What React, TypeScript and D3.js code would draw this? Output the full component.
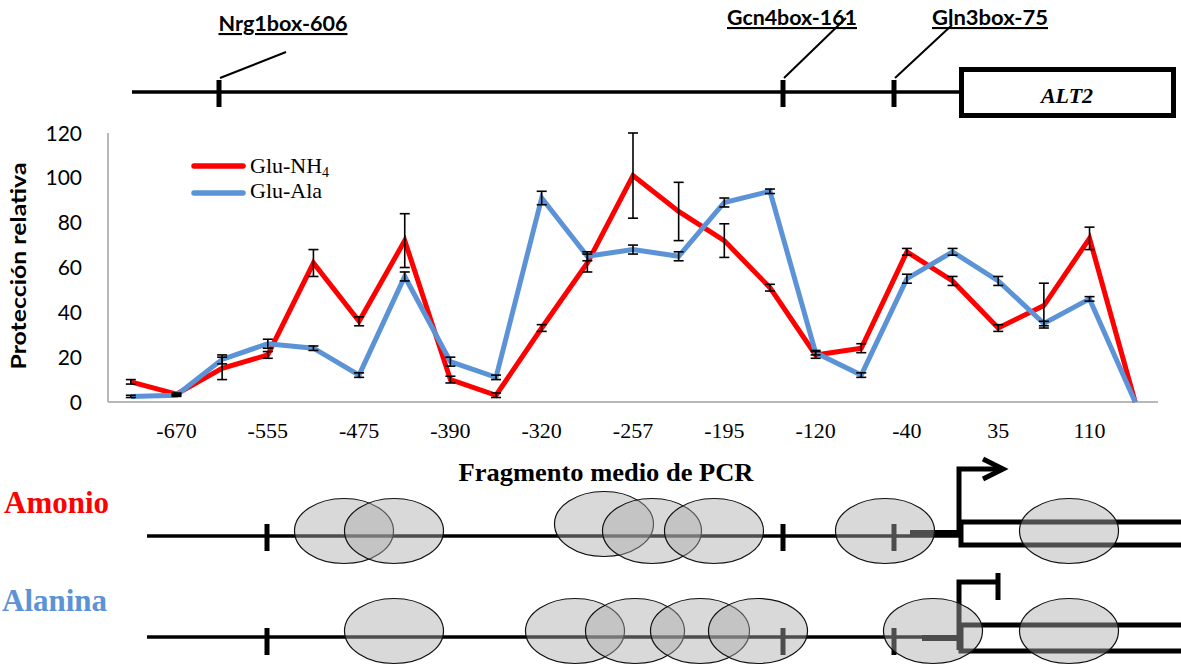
import React from "react";
import * as d3 from "d3";

// PCR fragment midpoints (only every second one is labelled on the axis)
const categories = [
  "-715", "-670", "-610", "-555", "-515", "-475", "-430", "-390", "-355", "-320", "-290", "-257",
  "-225", "-195", "-160", "-120", "-80", "-40", "0", "35", "75", "110", "150",
];
const gluNH4 = [9, 3.5, 15, 21, 62, 36, 72, 10, 3, 33, 62, 101, 85, 72, 51, 21, 24, 67, 54, 33, 43, 73, 0];
const gluNH4Err = [1, 0.5, 5, 1.5, 6, 2, 12, 1.5, 1, 1.5, 4, 19, 13, 7.5, 1.5, 1.5, 2, 1.5, 2, 1.5, 10, 5, 0];
const gluAla = [2.5, 3, 19, 26, 24, 12, 56, 18, 11, 91, 65, 68, 65, 89, 94, 22, 12, 55, 67, 54, 35, 46, 0];
const gluAlaErr = [0.5, 0.5, 2, 2, 1, 1, 2, 2, 1, 3, 2, 2, 2, 2, 1, 1, 1, 2, 1.5, 2, 1, 1, 0];
const yTicks = [0, 20, 40, 60, 80, 100, 120];

// schematic: boxes in the promoter (top) and nucleosome positions (bottom)
const boxes = [
  { name: "Nrg1box-606", tick: 219, label: 283, base: 31, len: 129, lead: [286, 52] },
  { name: "Gcn4box-161", tick: 783, label: 792, base: 25, len: 130, lead: [846, 18] },
  { name: "Gln3box-75", tick: 894, label: 990, base: 25, len: 116, lead: [952, 25] },
];
const amonioNuc = [[344, 531], [394, 531], [604, 524], [652, 531], [714, 531], [885, 531], [1069, 531]];
const alaninaNuc = [[394, 631], [575, 631], [635, 631], [700, 631], [758, 631], [933, 631], [1069, 631]];

const RED = "#ff0000";
const BLUE = "#5b93d6";
const SANS = "Lato, 'Open Sans', sans-serif";
const SERIF = "'Liberation Serif', 'Times New Roman', serif";

const x = d3.scalePoint<string>().domain(categories).range([108, 1158]).padding(0.5);
const y = d3.scaleLinear().domain([0, 120]).range([402, 133]);

const line = d3
  .line<number>()
  .x((_, i) => x(categories[i]) as number)
  .y((d) => y(d));

const series = [
  { name: "Glu-NH", sub: "4", values: gluNH4, err: gluNH4Err, color: RED },
  { name: "Glu-Ala", sub: "", values: gluAla, err: gluAlaErr, color: BLUE },
];

function Nucleosomes({ list }: { list: number[][] }) {
  return (
    <g>
      {list.map(([cx, cy], i) => (
        <ellipse key={i} cx={cx} cy={cy} rx={49.5} ry={32.5} fill="rgb(170,170,170)" fillOpacity={0.45} stroke="#111" strokeWidth={1.2} />
      ))}
    </g>
  );
}

export default function App() {
  return (
    <svg width={1181} height={665} style={{ position: "absolute", left: 0, top: 0, background: "#fff" }}>
      {/* top promoter schematic */}
      <line x1={132} x2={960} y1={92} y2={92} stroke="#000" strokeWidth={3.5} />
      {boxes.map((b) => (
        <g key={b.name}>
          <line x1={b.tick} x2={b.tick} y1={80} y2={107} stroke="#000" strokeWidth={5} />
          <line x1={b.tick + 1} y1={78} x2={b.lead[0]} y2={b.lead[1]} stroke="#000" strokeWidth={2} />
          <text
            x={b.label}
            y={b.base}
            textAnchor="middle"
            fontFamily={SANS}
            fontWeight="bold"
            fontSize={21}
            textLength={b.len}
            lengthAdjust="spacingAndGlyphs"
            style={{ textDecoration: "underline" }}
          >
            {b.name}
          </text>
        </g>
      ))}
      <rect x={961.5} y={69.5} width={212} height={46} fill="#fff" stroke="#000" strokeWidth={5} />
      <text x={1067} y={103} textAnchor="middle" fontFamily={SERIF} fontStyle="italic" fontWeight="bold" fontSize={22}>
        ALT2
      </text>

      {/* axes */}
      <line x1={108} x2={108} y1={133} y2={402} stroke="#a0a0a0" strokeWidth={1.5} />
      <line x1={108} x2={1158} y1={402} y2={402} stroke="#a0a0a0" strokeWidth={1.5} />
      {yTicks.map((t) => (
        <text key={t} x={82} y={y(t)} dy="0.36em" textAnchor="end" fontFamily={SANS} fontSize={21}>
          {t}
        </text>
      ))}
      {categories.map((c, i) =>
        i % 2 === 1 ? (
          <text key={c} x={x(c)} y={438} textAnchor="middle" fontFamily={SERIF} fontSize={22}>
            {c}
          </text>
        ) : null
      )}
      <text
        transform="translate(26,266) rotate(-90)"
        textAnchor="middle"
        fontFamily={SANS}
        fontWeight="bold"
        fontSize={21}
        textLength={207}
        lengthAdjust="spacingAndGlyphs"
      >
        Protección relativa
      </text>
      <text x={606} y={481} textAnchor="middle" fontFamily={SERIF} fontWeight="bold" fontSize={25} textLength={295} lengthAdjust="spacingAndGlyphs">
        Fragmento medio de PCR
      </text>

      {/* series */}
      {series.map((s) => (
        <path key={s.name} d={line(s.values) as string} fill="none" stroke={s.color} strokeWidth={5} strokeLinejoin="miter" />
      ))}
      {series.map((s) =>
        s.values.map((v, i) => {
          const cx = x(categories[i]) as number;
          const e = s.err[i];
          if (!e) return null;
          return (
            <g key={s.name + i} stroke="#000" strokeWidth={1.6}>
              <line x1={cx} x2={cx} y1={y(v - e)} y2={y(v + e)} />
              <line x1={cx - 5} x2={cx + 5} y1={y(v - e)} y2={y(v - e)} />
              <line x1={cx - 5} x2={cx + 5} y1={y(v + e)} y2={y(v + e)} />
            </g>
          );
        })
      )}

      {/* legend */}
      {series.map((s, i) => (
        <g key={s.name}>
          <line x1={194} x2={243} y1={166 + i * 27} y2={166 + i * 27} stroke={s.color} strokeWidth={5.5} strokeLinecap="round" />
          <text x={250} y={173 + i * 25} fontFamily={SERIF} fontSize={22}>
            {s.name}
            {s.sub ? (
              <tspan fontSize={14} dy={4}>
                {s.sub}
              </tspan>
            ) : null}
          </text>
        </g>
      ))}

      {/* Amonio schematic */}
      <text x={4} y={513} fill={RED} fontFamily={SERIF} fontWeight="bold" fontSize={31}>
        Amonio
      </text>
      <line x1={147} x2={959} y1={536} y2={536} stroke="#000" strokeWidth={3.5} />
      <line x1={910} x2={959} y1={533} y2={533} stroke="#000" strokeWidth={6} />
      {[267, 783, 894].map((t) => (
        <line key={t} x1={t} x2={t} y1={524} y2={551} stroke="#000" strokeWidth={5} />
      ))}
      <rect x={961} y={522} width={240} height={23} fill="#fff" stroke="#000" strokeWidth={5} />
      <path d="M959,533 V469 H1003" fill="none" stroke="#000" strokeWidth={5} />
      <path d="M983,459 L1003,469 L983,479" fill="none" stroke="#000" strokeWidth={5} />
      <Nucleosomes list={amonioNuc} />

      {/* Alanina schematic */}
      <text x={2} y={611} fill={BLUE} fontFamily={SERIF} fontWeight="bold" fontSize={31}>
        Alanina
      </text>
      <line x1={147} x2={959} y1={637} y2={637} stroke="#000" strokeWidth={3.5} />
      <line x1={922} x2={959} y1={638} y2={638} stroke="#000" strokeWidth={6} />
      {[267, 783, 894].map((t) => (
        <line key={t} x1={t} x2={t} y1={628} y2={655} stroke="#000" strokeWidth={5} />
      ))}
      <rect x={961} y={625} width={240} height={26} fill="#fff" stroke="#000" strokeWidth={5} />
      <path d="M959,650 V582 H998" fill="none" stroke="#000" strokeWidth={5} />
      <path d="M998,573 V600" fill="none" stroke="#000" strokeWidth={5} />
      <Nucleosomes list={alaninaNuc} />
    </svg>
  );
}
